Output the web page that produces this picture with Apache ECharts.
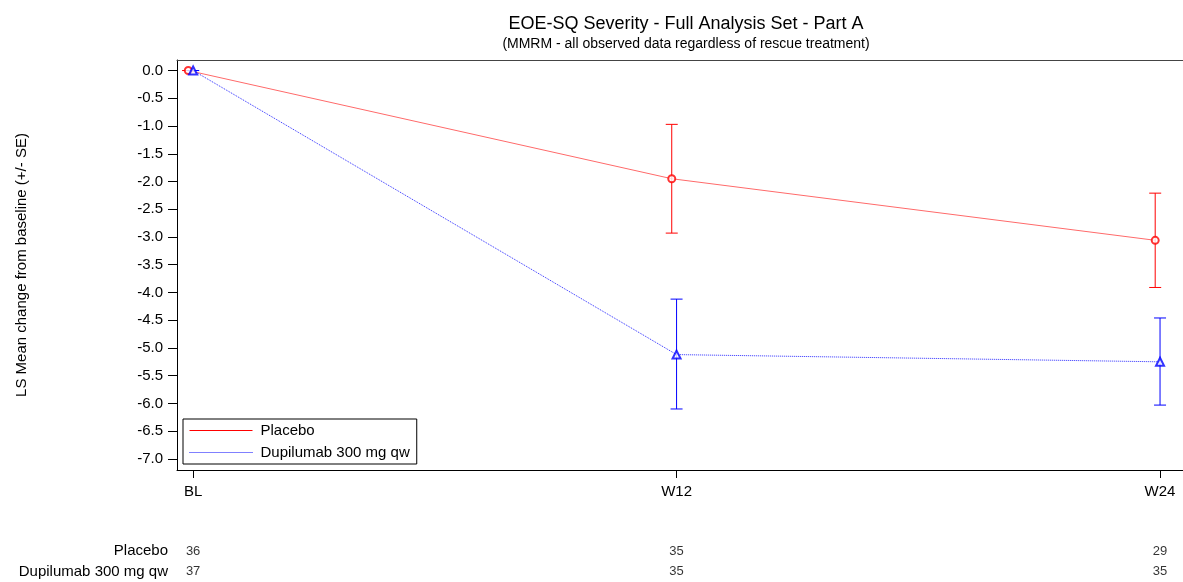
<!DOCTYPE html>
<html>
<head>
<meta charset="utf-8">
<script src="https://cdn.jsdelivr.net/npm/echarts@6/dist/echarts.min.js"></script>
<style>
  html, body { margin: 0; padding: 0; background: #fff; }
  #chart { width: 1183px; height: 582px; }
</style>
</head>
<body>
<div id="chart"></div>
<script>
// visit positions (weeks) and their labels
const weeks = [0, 12, 24]
const visitLabels = ['BL', 'W12', 'W24']
const yTicks = [0, -0.5, -1, -1.5, -2, -2.5, -3, -3.5, -4, -4.5, -5, -5.5, -6, -6.5, -7]

// LS mean change and +/- SE bounds
const placeboMean = [0, -1.95, -3.06]
const placeboLow = [0, -2.93, -3.91]
const placeboHigh = [0, -0.97, -2.21]
const dupiMean = [0, -5.12, -5.25]
const dupiLow = [0, -6.10, -6.03]
const dupiHigh = [0, -4.12, -4.46]

// number of subjects at each visit
const tableRows = ['Placebo', 'Dupilumab 300 mg qw']
const placeboN = [36, 35, 29]
const dupiN = [37, 35, 35]

const placeboShift = -0.12 // small dodge so the two groups don't overlap
const X_MIN = -0.4
const X_MAX = 24.57
const FONT = 'Liberation Sans, Arial, sans-serif'

const chart = echarts.init(document.getElementById('chart'))

function errorBars(xs, lo, hi, color) {
  return {
    type: 'custom',
    silent: true,
    z: 3,
    data: xs.map((x, i) => [x, lo[i], hi[i]]),
    encode: { x: 0, y: [1, 2] },
    renderItem(params, api) {
      const top = api.coord([api.value(0), api.value(2)])
      const bot = api.coord([api.value(0), api.value(1)])
      const hw = 6
      const style = { stroke: color, lineWidth: 1 }
      return {
        type: 'group',
        children: [
          { type: 'line', shape: { x1: top[0], y1: top[1], x2: bot[0], y2: bot[1] }, style },
          { type: 'line', shape: { x1: top[0] - hw, y1: top[1], x2: top[0] + hw, y2: top[1] }, style },
          { type: 'line', shape: { x1: bot[0] - hw, y1: bot[1], x2: bot[0] + hw, y2: bot[1] }, style },
        ],
      }
    },
  }
}

const placeboX = weeks.map((w) => w + placeboShift)

chart.setOption({
  animation: false,
  textStyle: { fontFamily: FONT, color: '#000' },
  title: {
    text: 'EOE-SQ Severity - Full Analysis Set - Part A',
    subtext: '(MMRM - all observed data regardless of rescue treatment)',
    left: 681,
    textAlign: 'center',
    top: 9,
    itemGap: 2,
    textStyle: { fontFamily: FONT, fontSize: 18, fontWeight: 'normal', color: '#000', lineHeight: 20 },
    subtextStyle: { fontFamily: FONT, fontSize: 14, color: '#000', lineHeight: 16 },
  },
  legend: {
    data: [
      { name: 'Placebo', lineStyle: { color: '#ff0000', width: 1 } },
      { name: 'Dupilumab 300 mg qw', lineStyle: { color: '#0000ff', width: 1, type: [1, 1] } },
    ],
    orient: 'vertical',
    left: 183,
    top: 419,
    padding: [4, 7, 4, 6],
    itemWidth: 63,
    itemHeight: 14,
    itemGap: 7,
    borderColor: '#000',
    borderWidth: 1,
    backgroundColor: '#fff',
    itemStyle: { color: 'transparent', borderColor: 'transparent', borderWidth: 0, opacity: 0 },
    textStyle: { fontFamily: FONT, fontSize: 15, color: '#000', padding: [0, 0, 0, 3] },
  },
  grid: [
    { left: 177, right: 0, top: 60, height: 410 },
    { left: 177, right: 0, top: 541, height: 44 },
  ],
  xAxis: [
    {
      type: 'value',
      gridIndex: 0,
      min: X_MIN,
      max: X_MAX,
      splitLine: { show: false },
      axisLine: { onZero: false, lineStyle: { color: '#000' } },
      axisTick: { customValues: weeks, length: 8, lineStyle: { color: '#000' } },
      axisLabel: {
        customValues: weeks,
        formatter: (v) => visitLabels[weeks.indexOf(v)],
        fontSize: 15,
        color: '#000',
        margin: 14,
      },
    },
    {
      type: 'value',
      gridIndex: 1,
      min: X_MIN,
      max: X_MAX,
      show: false,
    },
    {
      // top frame line only
      type: 'value',
      gridIndex: 0,
      position: 'top',
      min: X_MIN,
      max: X_MAX,
      splitLine: { show: false },
      axisLine: { onZero: false, lineStyle: { color: '#444' } },
      axisTick: { show: false },
      axisLabel: { show: false },
    },
  ],
  yAxis: [
    {
      type: 'value',
      gridIndex: 0,
      min: -7.2,
      max: 0.19,
      name: 'LS Mean change from baseline (+/- SE)',
      nameLocation: 'middle',
      nameGap: 148,
      nameTextStyle: { fontFamily: FONT, fontSize: 15, color: '#000' },
      splitLine: { show: false },
      axisLine: { show: true, onZero: false, lineStyle: { color: '#000' } },
      axisTick: { show: true, customValues: yTicks, length: 9, lineStyle: { color: '#000' } },
      axisLabel: {
        customValues: yTicks,
        formatter: (v) => v.toFixed(1),
        fontSize: 15,
        color: '#000',
        margin: 14,
      },
    },
    {
      type: 'category',
      gridIndex: 1,
      data: tableRows,
      inverse: true,
      axisLine: { show: false },
      axisTick: { show: false },
      splitLine: { show: false },
      axisLabel: { fontSize: 15, color: '#000', margin: 9 },
    },
  ],
  series: [
    {
      name: 'Placebo',
      type: 'line',
      data: placeboX.map((x, i) => [x, placeboMean[i]]),
      symbol: 'none',
      lineStyle: { color: '#ff6a6a', width: 1 },
      itemStyle: { color: '#ff0000' },
      z: 2,
    },
    {
      name: 'Dupilumab 300 mg qw',
      type: 'line',
      data: weeks.map((x, i) => [x, dupiMean[i]]),
      symbol: 'none',
      lineStyle: { color: '#2a2aff', width: 1, type: [1, 1] },
      itemStyle: { color: '#0000ff' },
      z: 2,
    },
    errorBars(placeboX, placeboLow, placeboHigh, '#ff0000'),
    errorBars(weeks, dupiLow, dupiHigh, '#0000ff'),
    {
      type: 'scatter',
      data: placeboX.map((x, i) => [x, placeboMean[i]]),
      symbol: 'emptyCircle',
      symbolSize: 7,
      itemStyle: { color: '#ff0000', borderWidth: 1 },
      z: 4,
    },
    {
      type: 'scatter',
      data: weeks.map((x, i) => [x, dupiMean[i]]),
      symbol: 'emptyTriangle',
      symbolSize: 8,
      itemStyle: { color: '#0000ff', borderWidth: 1 },
      z: 4,
    },
    {
      type: 'scatter',
      xAxisIndex: 1,
      yAxisIndex: 1,
      data: weeks.map((w, i) => [w, tableRows[0], placeboN[i]])
        .concat(weeks.map((w, i) => [w, tableRows[1], dupiN[i]])),
      symbolSize: 1,
      itemStyle: { color: 'transparent' },
      label: {
        show: true,
        position: 'inside',
        formatter: (p) => String(p.value[2]),
        fontFamily: FONT,
        fontSize: 13,
        color: '#000',
      },
      silent: true,
    },
  ],
})

window.addEventListener('resize', () => chart.resize())
</script>
</body>
</html>
